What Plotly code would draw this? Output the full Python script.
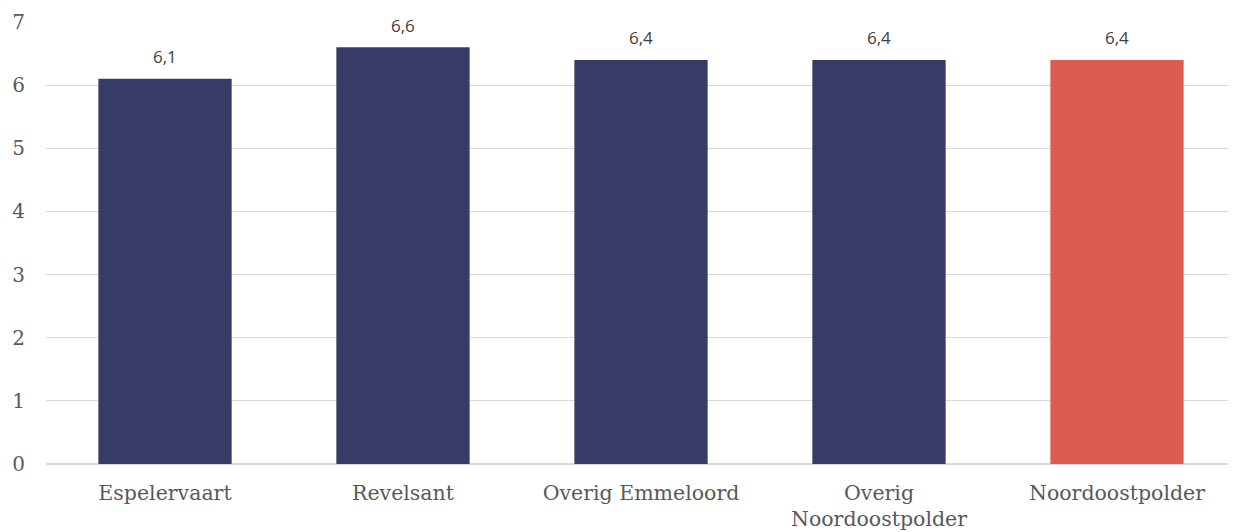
import plotly.graph_objects as go

categories = ["Espelervaart", "Revelsant", "Overig Emmeloord", "Overig<br>Noordoostpolder", "Noordoostpolder"]
values = [6.1, 6.6, 6.4, 6.4, 6.4]
colors = ["#383b66", "#383b66", "#383b66", "#383b66", "#dd5c51"]
value_labels = [f"{v:.1f}".replace(".", ",") for v in values]

fig = go.Figure()
fig.add_trace(go.Bar(x=categories, y=values, marker=dict(color=colors, line=dict(width=0)),
                     hoverinfo="skip"))

for c, v, t in zip(categories, values, value_labels):
    fig.add_annotation(x=c, y=v, text=t, showarrow=False, yshift=22, bgcolor="white",
                       borderpad=8, font=dict(family="Open Sans", size=17, color="#404040"))

fig.update_layout(
    width=1228, height=524,
    margin=dict(l=38, r=0, t=14, b=68, autoexpand=False),
    plot_bgcolor="white", paper_bgcolor="white",
    bargap=0.44, showlegend=False,
    xaxis=dict(tickfont=dict(family="DejaVu Serif", size=20.5, color="#595959"), showgrid=False,
               showline=False, ticks="", ticklabelstandoff=14, automargin=False),
    yaxis=dict(range=[0, 7], dtick=1, tickfont=dict(family="DejaVu Serif", size=20, color="#595959"),
               showgrid=True, gridcolor="#d9d9d9", gridwidth=1, zeroline=True, zerolinecolor="#d9d9d9",
               zerolinewidth=2, ticks="", showline=False, ticklabelstandoff=20, automargin=False),
)
fig.write_html("out.html")
